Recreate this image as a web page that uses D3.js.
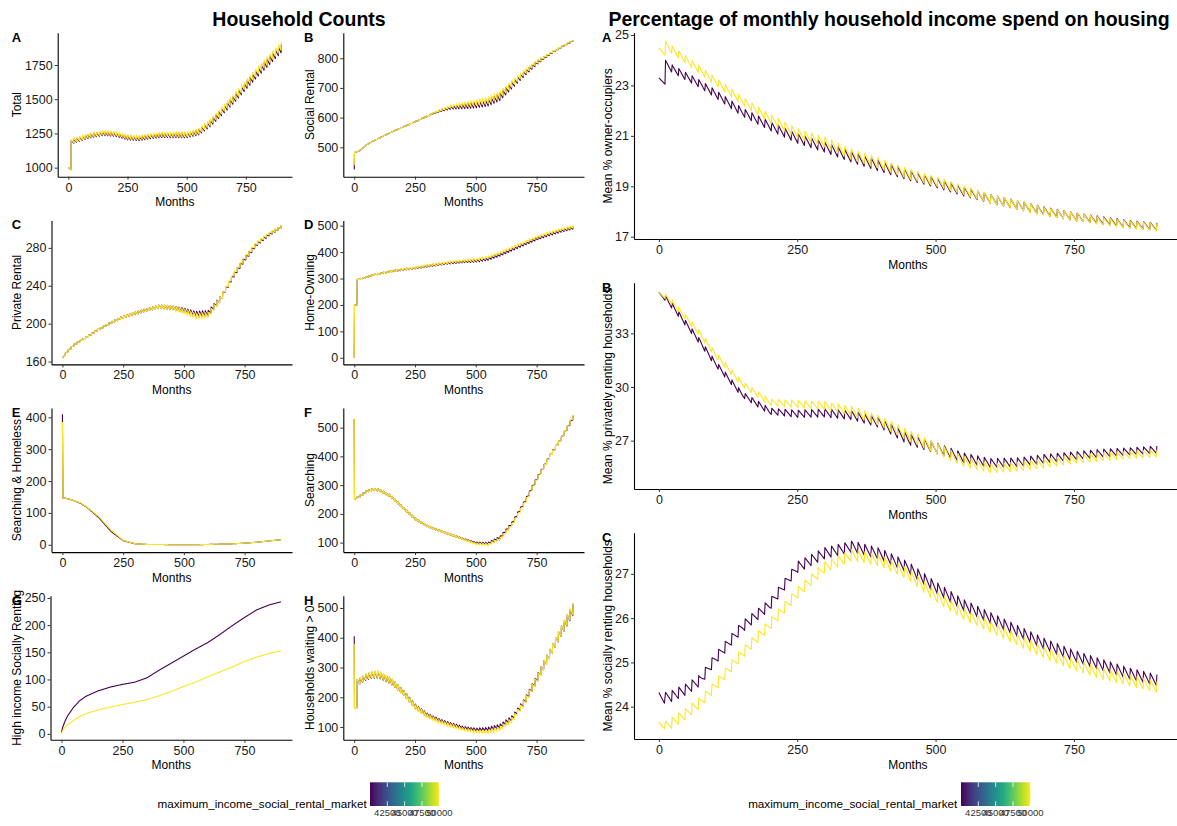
<!DOCTYPE html>
<html><head><meta charset="utf-8">
<script src="https://cdn.jsdelivr.net/npm/d3@7"></script>
<style>
body{margin:0;background:#fff;}
svg text{font-family:"Liberation Sans", Arial, sans-serif;}
</style></head><body>
<svg id="chart" width="1177" height="826"></svg>
<script>
// ---------------- DATA ----------------
const gridMonths = [12,25,50,75,100,150,200,250,300,350,400,450,500,550,600,650,700,750,800,850,900];
const xTicks = [0,250,500,750];
const legendValues = [40000, 50000];            // purple, yellow
const legendTicks = [42500, 45000, 47500, 50000];

// Household counts
const totalStart40 = [[0,1000],[11,985]], totalStart50 = [[0,1000],[11,985]];
const total40 = [1185,1195,1210,1224,1235,1250,1243,1218,1212,1228,1236,1236,1236,1258,1322,1410,1500,1598,1692,1782,1872];
const total50 = [1190,1200,1215,1229,1240,1257,1250,1225,1220,1236,1244,1244,1244,1266,1332,1422,1512,1612,1708,1798,1890];
const totalSwing = [30,30,30,30,30,30,30,30,30,30,30,35,35,40,45,50,55,55,55,60,60];

const socialStart40 = [[0,425],[1,483],[11,484]], socialStart50 = [[0,440],[1,483],[11,484]];
const social40 = [484,490,508,520,530,550,568,586,605,622,634,638,643,650,670,710,748,784,812,837,859];
const social50 = [484,490,508,520,530,550,568,586,605,624,638,644,650,658,678,716,753,787,814,838,860];
const socialSwing = [2,2,2,2,2,2,2,3,4,6,10,16,20,22,25,22,18,12,8,5,4];

const privateStart40 = [[0,164],[11,167]], privateStart50 = [[0,164],[11,167]];
const private40 = [168,172,178,182,186,194,201,207,211,215,218,217,214,210,211,226,249,268,284,294,302];
const private50 = [168,172,178,182,186,194,201,207,211,215,218,217,213,208,209,226,250,269,285,295,302];
const privateSwing = [2,2,2,2,2,2,2,3,3,3,4,4,5,6,6,6,5,5,4,3,3];

const owningStart40 = [[0,0],[1,200],[11,200]], owningStart50 = [[0,0],[1,200],[11,200]];
const owning40 = [295,299,305,312,318,327,334,340,347,354,360,364,367,374,390,410,430,450,466,480,492];
const owning50 = [295,299,305,312,318,327,335,341,349,356,363,367,371,380,397,417,437,456,472,485,496];
const owningSwing = [4,4,4,5,5,6,7,8,8,8,8,8,10,10,10,10,10,10,10,10,10];

const homelessStart40 = [[0,410],[2,147],[11,146]], homelessStart50 = [[0,385],[2,147],[11,146]];
const homeless40 = [146,144,138,130,118,85,42,13,3,1,1,0,0,0,1,2,3,5,8,12,16];
const homeless50 = [146,144,138,131,119,88,46,14,3,1,1,0,0,0,1,2,3,5,8,12,16];
const homelessSwing = [1,1,1,1,1,1,1,1,1,0,0,0,0,0,0,0,0,0,0,0,0];

const searchStart40 = [[0,530],[1,250],[11,256]], searchStart50 = [[0,530],[1,250],[11,256]];
const search40 = [256,262,278,285,284,262,222,183,158,142,127,112,99,97,118,168,240,320,395,460,535];
const search50 = [256,262,278,285,284,262,222,183,158,142,127,111,96,93,113,163,236,318,394,460,538];
const searchSwing = [8,8,8,8,8,8,8,8,6,6,6,6,6,8,10,12,14,14,14,14,14];

const highIncStart40 = [[0,3],[5,12],[11,19]], highIncStart50 = [[0,0],[5,6],[11,10]];
const highInc40 = [21,33,49,61,69,79,86,91,95,103,117,130,143,156,168,183,199,214,228,237,243];
const highInc50 = [11,16,25,32,37,44,49,54,58,63,70,78,87,95,105,114,123,133,141,148,153];
const highIncSwing = [0,0,0,0,0,0,0,0,0,0,0,0,0,0,0,0,0,0,0,0,0];

const waitingStart40 = [[0,405],[1,165],[11,165]], waitingStart50 = [[0,380],[1,165],[11,165]];
const waiting40 = [250,255,268,275,276,255,218,170,140,122,108,97,91,93,103,130,185,260,340,420,495];
const waiting50 = [250,256,270,277,278,256,218,168,137,118,104,92,85,84,95,124,182,258,340,420,498];
const waitingSwing = [20,20,20,22,22,20,18,16,14,12,12,10,10,12,14,18,22,26,30,34,38];

// Percentage of income spent on housing
const ownerStart40 = [[0,23.3],[11,23.05]], ownerStart50 = [[0,24.5],[11,24.2]];
const owner40 = [23.85,23.65,23.35,23.05,22.7,21.95,21.4,20.9,20.55,20.15,19.8,19.45,19.15,18.8,18.5,18.25,18.0,17.8,17.65,17.5,17.4];
const owner50 = [24.6,24.4,24.0,23.6,23.2,22.4,21.7,21.1,20.75,20.25,19.9,19.5,19.2,18.85,18.5,18.25,17.98,17.8,17.62,17.48,17.38];
const ownerSwing = [0.3,0.3,0.3,0.3,0.3,0.32,0.35,0.38,0.4,0.42,0.42,0.4,0.38,0.36,0.35,0.35,0.33,0.32,0.3,0.3,0.3];

const privPctStart40 = [[0,35.3],[11,34.85]], privPctStart50 = [[0,35.3],[11,34.95]];
const privPct40 = [34.95,34.5,33.5,32.5,31.4,29.6,28.65,28.5,28.55,28.42,28.0,27.1,26.6,26.05,25.75,25.8,26.0,26.15,26.3,26.4,26.5];
const privPct50 = [35.05,34.7,33.85,32.95,31.9,30.2,29.15,29.05,28.97,28.65,28.1,27.3,26.6,25.85,25.45,25.55,25.75,25.95,26.1,26.2,26.3];
const privPctSwing = [0.3,0.3,0.3,0.3,0.3,0.3,0.35,0.4,0.45,0.5,0.55,0.6,0.6,0.55,0.5,0.5,0.5,0.45,0.45,0.4,0.4];

const socPctStart40 = [[0,24.32],[10,24.08]], socPctStart50 = [[0,23.65],[10,23.5]];
const socPct40 = [24.2,24.25,24.4,24.6,25.05,25.8,26.3,27.15,27.47,27.62,27.45,27.15,26.7,26.3,26.0,25.7,25.4,25.15,24.95,24.75,24.6];
const socPct50 = [23.55,23.65,23.85,24.1,24.45,25.2,25.85,26.57,27.15,27.43,27.3,27.0,26.5,26.1,25.8,25.5,25.2,24.95,24.75,24.6,24.45];
const socPctSwing = [0.25,0.25,0.25,0.25,0.25,0.25,0.25,0.25,0.25,0.25,0.25,0.25,0.25,0.25,0.25,0.25,0.25,0.25,0.25,0.25,0.25];

// ---------------- PANEL TABLE ----------------
const L = {c1:57.7, c1b:51.5, c1r:292, c2:343.3, c2r:584, r0:634, r1:1181.8};
const rowTop = k => 32.7 + 187.7*k, rowBot = k => 176.7 + 187.7*k;
const rTop = k => 32.7 + 250*k, rBot = k => 239 + 250*k;

const panels = [
 {tag:"A", title:"Total", ticks:[1000,1250,1500,1750], dom:[934,1986], box:[L.c1,L.c1r,rowTop(0),rowBot(0)], s40:[totalStart40,total40], s50:[totalStart50,total50], sw:totalSwing, col:0},
 {tag:"B", title:"Social Rental", ticks:[500,600,700,800], dom:[401,886], box:[L.c2,L.c2r,rowTop(0),rowBot(0)], s40:[socialStart40,social40], s50:[socialStart50,social50], sw:socialSwing, col:1},
 {tag:"C", title:"Private Rental", ticks:[160,200,240,280], dom:[157,309], box:[L.c1b,L.c1r,rowTop(1),rowBot(1)], s40:[privateStart40,private40], s50:[privateStart50,private50], sw:privateSwing, col:0},
 {tag:"D", title:"Home-Owning", ticks:[0,100,200,300,400,500], dom:[-25,520], box:[L.c2,L.c2r,rowTop(1),rowBot(1)], s40:[owningStart40,owning40], s50:[owningStart50,owning50], sw:owningSwing, col:1},
 {tag:"E", title:"Searching & Homeless", ticks:[0,100,200,300,400], dom:[-23,429], box:[L.c1b,L.c1r,rowTop(2),rowBot(2)], s40:[homelessStart40,homeless40], s50:[homelessStart50,homeless50], sw:homelessSwing, col:0},
 {tag:"F", title:"Searching", ticks:[100,200,300,400,500], dom:[67,568], box:[L.c2,L.c2r,rowTop(2),rowBot(2)], s40:[searchStart40,search40], s50:[searchStart50,search50], sw:searchSwing, col:1},
 {tag:"G", title:"High income Socially Renting", ticks:[0,50,100,150,200,250], dom:[-11,254], box:[L.c1b-1,L.c1r,rowTop(3),rowBot(3)], s40:[highIncStart40,highInc40], s50:[highIncStart50,highInc50], sw:highIncSwing, col:0},
 {tag:"H", title:"Households waiting > 0", ticks:[100,200,300,400,500], dom:[57,541], box:[L.c2,L.c2r,rowTop(3),rowBot(3)], s40:[waitingStart40,waiting40], s50:[waitingStart50,waiting50], sw:waitingSwing, col:1},
 {tag:"A", title:"Mean % owner-occupiers", ticks:[17,19,21,23,25], dom:[16.91,25.09], box:[L.r0,L.r1,rTop(0),rBot(0)], s40:[ownerStart40,owner40], s50:[ownerStart50,owner50], sw:ownerSwing, col:2},
 {tag:"B", title:"Mean % privately renting households", ticks:[27,30,33], dom:[24.3,35.83], box:[L.r0,L.r1,rTop(1),rBot(1)], s40:[privPctStart40,privPct40], s50:[privPctStart50,privPct50], sw:privPctSwing, col:2},
 {tag:"C", title:"Mean % socially renting households", ticks:[24,25,26,27], dom:[23.27,27.93], box:[L.r0,L.r1,rTop(2),rBot(2)], s40:[socPctStart40,socPct40], s50:[socPctStart50,socPct50], sw:socPctSwing, col:2}
];
const tagX = [11.7, 304, 602];
const titleX = [16.7, 309.5, 607.5];

// ---------------- DRAW ----------------
const svg = d3.select("#chart");
const color = d3.scaleSequential(d3.interpolateViridis).domain([40000,50000]);
const fmt = d => String(d);

function buildSeries(start, trend, swing){
  const t = d3.scaleLinear().domain(gridMonths).range(trend);
  const s = d3.scaleLinear().domain(gridMonths).range(swing);
  const pts = start.map(d => ({m:d[0], v:d[1]}));
  for (let m = 12; m <= 900; m++){
    const ph = (m - 12) % 12;
    pts.push({m, v: t(m) + s(m) * (0.5 - ph/11)});
  }
  return pts;
}

panels.forEach(p => {
  const [x0,x1,y0,y1] = p.box;
  const x = d3.scaleLinear().domain([-45,945]).range([x0,x1]);
  const y = d3.scaleLinear().domain(p.dom).range([y1,y0]);
  const g = svg.append("g");
  const line = d3.line().x(d => x(d.m)).y(d => y(d.v));
  [[p.s40, legendValues[0]], [p.s50, legendValues[1]]].forEach(([s, val]) => {
    g.append("path").datum(buildSeries(s[0], s[1], p.sw))
      .attr("fill","none").attr("stroke", color(val)).attr("stroke-width",1.1)
      .attr("stroke-linejoin","round").attr("d", line);
  });
  const ax = g.append("g").attr("transform",`translate(0,${y1})`)
    .call(d3.axisBottom(x).tickValues(xTicks).tickFormat(fmt).tickSize(3).tickSizeOuter(0).tickPadding(3));
  const ay = g.append("g").attr("transform",`translate(${x0},0)`)
    .call(d3.axisLeft(y).tickValues(p.ticks).tickFormat(fmt).tickSize(3).tickSizeOuter(0).tickPadding(2));
  [ax, ay].forEach(a => {
    a.select(".domain").attr("stroke","#000").attr("stroke-width",1.1);
    a.selectAll(".tick line").attr("stroke","#333").attr("stroke-width",1);
    a.selectAll(".tick text").attr("fill","#1a1a1a").style("font-size","12.5px").style("font-family","'Liberation Sans', Arial, sans-serif");
  });
  g.append("text").attr("x",(x0+x1)/2).attr("y",y1+29.5).attr("text-anchor","middle")
    .style("font-size","12px").attr("fill","#000").text("Months");
  g.append("text").attr("transform",`translate(${titleX[p.col]},${(y0+y1)/2}) rotate(-90)`)
    .attr("dy","0.35em").attr("text-anchor","middle").style("font-size","12px").attr("fill","#000").text(p.title);
  g.append("text").attr("x",tagX[p.col]).attr("y",y0+9).style("font-size","13px").style("font-weight","bold")
    .attr("fill","#000").text(p.tag);
});

// Titles
svg.append("text").attr("x",299).attr("y",26).attr("text-anchor","middle")
  .style("font-size","19.5px").style("font-weight","bold").text("Household Counts");
svg.append("text").attr("x",889).attr("y",26).attr("text-anchor","middle")
  .style("font-size","19.5px").style("font-weight","bold").text("Percentage of monthly household income spend on housing");

// Legends
const defs = svg.append("defs");
const grad = defs.append("linearGradient").attr("id","vir").attr("x1","0%").attr("x2","100%");
d3.range(0,1.0001,0.1).forEach(t => grad.append("stop").attr("offset",(t*100)+"%").attr("stop-color", d3.interpolateViridis(t)));

[[366.7, 370], [957.3, 961]].forEach(([tx, bx]) => {
  const lg = svg.append("g");
  lg.append("text").attr("x",tx).attr("y",808).attr("text-anchor","end").style("font-size","11.7px")
    .attr("fill","#000").text("maximum_income_social_rental_market");
  const ls = d3.scaleLinear().domain([40000,50000]).range([bx, bx+69.3]);
  lg.append("rect").attr("x",bx).attr("y",782.3).attr("width",69.3).attr("height",23.7).attr("fill","url(#vir)");
  legendTicks.forEach(v => {
    lg.append("line").attr("x1",ls(v)).attr("x2",ls(v)).attr("y1",782.3).attr("y2",787).attr("stroke","#fff").attr("stroke-width",0.8);
    lg.append("line").attr("x1",ls(v)).attr("x2",ls(v)).attr("y1",801.3).attr("y2",806).attr("stroke","#fff").attr("stroke-width",0.8);
    lg.append("text").attr("x",ls(v)).attr("y",816).attr("text-anchor","middle").style("font-size","9.5px")
      .attr("fill","#333").text(v);
  });
});
</script>
</body></html>
